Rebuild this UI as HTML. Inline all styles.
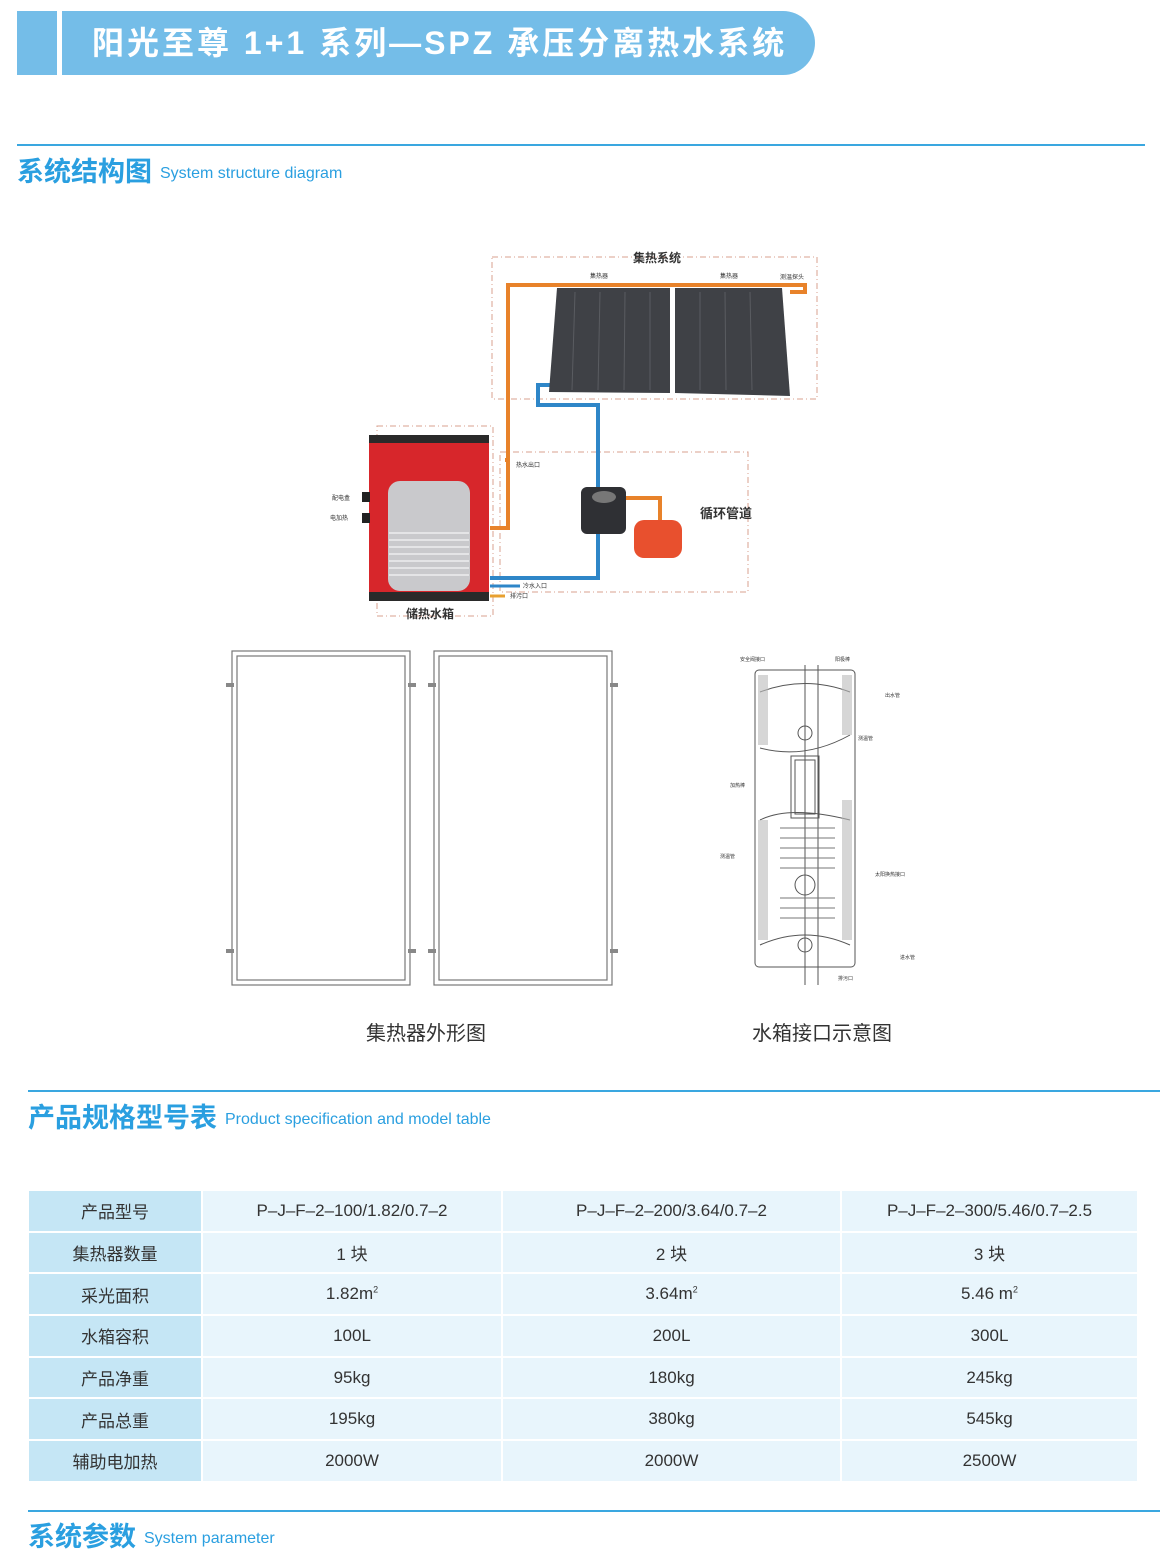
<!DOCTYPE html>
<html><head><meta charset="utf-8"><style>
body{margin:0;width:1160px;height:1566px;background:#fff;position:relative;overflow:hidden;font-family:"Liberation Sans","Noto Sans CJK SC",sans-serif}
.abs{position:absolute}
.hdr{left:62px;top:11px;width:753px;height:64px;background:#74bde8;border-radius:0 32px 32px 0;color:#fff;font-weight:bold;font-size:32px;line-height:64px;padding-left:30px;box-sizing:border-box;letter-spacing:3px}
.line{height:2px;background:#3aa7e0}
.sec{color:#2a9fe0;font-weight:bold;font-size:27px;white-space:nowrap}
.sec span{font-weight:normal;font-size:16px;margin-left:8px;vertical-align:3px}
table{position:absolute;left:28px;top:1190px;width:1110px;border-collapse:separate;border-spacing:0}
td{height:39.7px;border:1px solid #fff;background:#e8f5fc;text-align:center;font-size:17px;color:#333;padding:0}
td.h{background:#c5e6f5;width:172px}
sup{font-size:9px}
</style></head><body>
<div class="abs" style="left:17px;top:11px;width:40px;height:64px;background:#74bde8"></div>
<div class="abs hdr">阳光至尊 1+1 系列—SPZ 承压分离热水系统</div>
<div class="abs line" style="left:17px;top:144px;width:1128px"></div>
<div class="abs sec" style="left:17px;top:150px">系统结构图<span>System structure diagram</span></div>

<svg class="abs" style="left:0;top:0" width="1160" height="1060">
<g fill="none" stroke="#d9a08f" stroke-dasharray="6,3,1,3" stroke-width="1">
<rect x="492" y="257" width="325" height="142"/>
<rect x="377" y="426" width="116" height="190"/>
<rect x="500" y="452" width="248" height="140"/>
</g>
<text x="657" y="262" font-size="12" font-weight="bold" text-anchor="middle" fill="#333">集热系统</text>
<path d="M505 460 L508 460 L508 285 L805 285 L805 292 L790 292" fill="none" stroke="#e8822a" stroke-width="4"/>
<path d="M490 528 L508 528 L508 460" fill="none" stroke="#e8822a" stroke-width="4"/>
<path d="M550 385 L538 385 L538 405 L598 405 L598 578 L490 578" fill="none" stroke="#2e86c8" stroke-width="4"/>
<path d="M490 586 L520 586" stroke="#2e86c8" stroke-width="3"/>
<path d="M490 596 L505 596" stroke="#e8a030" stroke-width="3"/>
<path d="M625 498 L660 498 L660 520" fill="none" stroke="#e8822a" stroke-width="4"/>
<polygon points="557,288 670,288 670,393 549,392" fill="#3f4146"/>
<polygon points="675,288 782,288 790,396 675,393" fill="#3f4146"/>
<g stroke="#5a5c61" stroke-width="1">
<line x1="575" y1="292" x2="572" y2="390"/><line x1="600" y1="292" x2="598" y2="390"/><line x1="625" y1="292" x2="624" y2="390"/><line x1="650" y1="292" x2="650" y2="390"/>
<line x1="700" y1="292" x2="700" y2="390"/><line x1="725" y1="292" x2="726" y2="390"/><line x1="750" y1="292" x2="752" y2="390"/>
</g>
<text x="590" y="278" font-size="6" fill="#333">集热器</text><text x="720" y="278" font-size="6" fill="#333">集热器</text><text x="780" y="279" font-size="6" fill="#333">测温探头</text>
<rect x="369" y="435" width="120" height="165" rx="4" fill="#d7262b"/>
<rect x="369" y="435" width="120" height="8" fill="#2a2a2a"/>
<rect x="369" y="592" width="120" height="9" fill="#2a2a2a"/>
<rect x="388" y="481" width="82" height="110" rx="12" fill="#c9c9cc"/>
<g stroke="#eee" stroke-width="1.5"><line x1="389" y1="533" x2="469" y2="533"/><line x1="389" y1="540" x2="469" y2="540"/><line x1="389" y1="547" x2="469" y2="547"/><line x1="389" y1="554" x2="469" y2="554"/><line x1="389" y1="561" x2="469" y2="561"/><line x1="389" y1="568" x2="469" y2="568"/><line x1="389" y1="575" x2="469" y2="575"/></g>
<rect x="362" y="492" width="8" height="10" fill="#222"/><rect x="362" y="513" width="8" height="10" fill="#222"/>
<text x="332" y="500" font-size="6" fill="#333">配电盒</text><text x="330" y="520" font-size="6" fill="#333">电加热</text>
<text x="516" y="467" font-size="6" fill="#333">热水出口</text>
<text x="523" y="588" font-size="6" fill="#333">冷水入口</text>
<text x="510" y="598" font-size="6" fill="#333">排污口</text>
<text x="430" y="618" font-size="12" font-weight="bold" text-anchor="middle" fill="#333">储热水箱</text>
<rect x="581" y="487" width="45" height="47" rx="6" fill="#2f3034"/>
<ellipse cx="604" cy="497" rx="12" ry="6" fill="#777"/>
<rect x="634" y="520" width="48" height="38" rx="10" fill="#e8502e"/>
<text x="700" y="518" font-size="13" font-weight="bold" fill="#333">循环管道</text>
<g fill="none" stroke="#777" stroke-width="1.2">
<rect x="232" y="651" width="178" height="334"/><rect x="237" y="656" width="168" height="324"/>
<rect x="434" y="651" width="178" height="334"/><rect x="439" y="656" width="168" height="324"/>
</g>
<g fill="#888"><rect x="226" y="683" width="8" height="4"/><rect x="408" y="683" width="8" height="4"/><rect x="428" y="683" width="8" height="4"/><rect x="610" y="683" width="8" height="4"/>
<rect x="226" y="949" width="8" height="4"/><rect x="408" y="949" width="8" height="4"/><rect x="428" y="949" width="8" height="4"/><rect x="610" y="949" width="8" height="4"/></g>
<g fill="none" stroke="#555" stroke-width="1">
<rect x="755" y="670" width="100" height="297" rx="4"/>
<path d="M760 692 Q805 675 850 692" /><path d="M760 748 Q805 760 850 735"/>
<path d="M760 820 Q790 805 850 820"/><path d="M760 945 Q805 925 850 945"/>
<rect x="791" y="756" width="28" height="62"/><rect x="795" y="760" width="20" height="54"/>
<circle cx="805" cy="733" r="7"/><circle cx="805" cy="885" r="10"/><circle cx="805" cy="945" r="7"/>
<line x1="805" y1="665" x2="805" y2="985"/><line x1="818" y1="665" x2="818" y2="985"/>
</g>
<g stroke="#777" stroke-width="1">
<line x1="780" y1="828" x2="835" y2="828"/><line x1="780" y1="838" x2="835" y2="838"/><line x1="780" y1="848" x2="835" y2="848"/><line x1="780" y1="858" x2="835" y2="858"/><line x1="780" y1="868" x2="835" y2="868"/><line x1="780" y1="898" x2="835" y2="898"/><line x1="780" y1="908" x2="835" y2="908"/><line x1="780" y1="918" x2="835" y2="918"/>
</g>
<g fill="#bbb" opacity="0.6"><rect x="758" y="675" width="10" height="70"/><rect x="842" y="675" width="10" height="60"/><rect x="758" y="820" width="10" height="120"/><rect x="842" y="800" width="10" height="140"/></g>
<g font-size="5" fill="#333"><text x="740" y="661">安全阀接口</text><text x="835" y="661">阳极棒</text><text x="885" y="697">出水管</text><text x="858" y="740">测温管</text><text x="730" y="787">加热棒</text><text x="720" y="858">测温管</text><text x="875" y="876">太阳换热接口</text><text x="900" y="959">进水管</text><text x="838" y="980">排污口</text></g>
<text x="426" y="1040" font-size="20" text-anchor="middle" fill="#333">集热器外形图</text>
<text x="822" y="1040" font-size="20" text-anchor="middle" fill="#333">水箱接口示意图</text>
</svg>

<div class="abs line" style="left:28px;top:1090px;width:1132px"></div>
<div class="abs sec" style="left:28px;top:1096px">产品规格型号表<span>Product specification and model table</span></div>

<table>
<tr><td class="h">产品型号</td><td style="width:298px">P–J–F–2–100/1.82/0.7–2</td><td style="width:337px">P–J–F–2–200/3.64/0.7–2</td><td>P–J–F–2–300/5.46/0.7–2.5</td></tr>
<tr><td class="h">集热器数量</td><td>1 块</td><td>2 块</td><td>3 块</td></tr>
<tr><td class="h">采光面积</td><td>1.82m<sup>2</sup></td><td>3.64m<sup>2</sup></td><td>5.46 m<sup>2</sup></td></tr>
<tr><td class="h">水箱容积</td><td>100L</td><td>200L</td><td>300L</td></tr>
<tr><td class="h">产品净重</td><td>95kg</td><td>180kg</td><td>245kg</td></tr>
<tr><td class="h">产品总重</td><td>195kg</td><td>380kg</td><td>545kg</td></tr>
<tr><td class="h">辅助电加热</td><td>2000W</td><td>2000W</td><td>2500W</td></tr>
</table>

<div class="abs line" style="left:28px;top:1510px;width:1132px"></div>
<div class="abs sec" style="left:28px;top:1515px">系统参数<span>System parameter</span></div>
</body></html>
